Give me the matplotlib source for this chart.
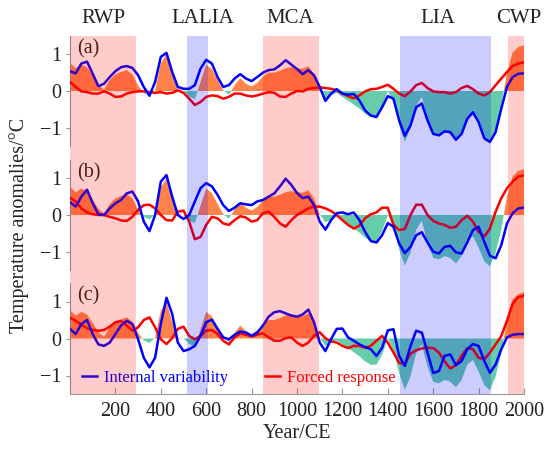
import matplotlib.pyplot as plt
import numpy as np

plt.rcParams['font.family'] = ['Liberation Serif', 'DejaVu Serif']
plt.rcParams['axes.unicode_minus'] = True

# ---- data (25-yr steps, 0..2000 CE) ----
years = np.arange(0, 2001, 25)

# reconstruction (shaded area, same in all panels)
recon = [0.77, 0.62, 0.72, 0.65, 0.42, 0.17, 0.04, 0.30,
         0.45, 0.52, 0.57, 0.45, 0.15, -0.05, -0.12, 0.02,
         0.75, 1.00, 0.45, 0.02, 0.00, -0.15, -0.22, 0.25,
         0.72, 0.60, 0.30, 0.02, -0.10, 0.15, 0.35, 0.20,
         0.12, 0.22, 0.40, 0.50, 0.50, 0.55, 0.62, 0.65,
         0.63, 0.60, 0.68, 0.45, 0.02, -0.20, -0.12, -0.05,
         -0.16, -0.26, -0.37, -0.48, -0.62, -0.71, -0.71, -0.44,
         0.00, -0.30, -0.94, -1.38, -1.03, -0.40, -0.16, -0.76,
         -1.17, -1.21, -1.12, -1.17, -1.32, -1.12, -0.71, -0.58,
         -0.89, -1.26, -1.40, -1.03, -0.40, 0.50, 1.05, 1.20,
         1.25]

internal_a = [0.54, 0.48, 0.75, 0.80, 0.47, 0.13, 0.20, 0.38,
              0.54, 0.65, 0.68, 0.63, 0.43, 0.11, -0.13, 0.25,
              0.93, 1.04, 0.52, 0.11, 0.06, 0.06, 0.16, 0.61,
              0.85, 0.75, 0.38, 0.11, 0.16, 0.34, 0.46, 0.34,
              0.27, 0.38, 0.50, 0.57, 0.59, 0.70, 0.84, 0.72,
              0.60, 0.46, 0.57, 0.43, 0.11, -0.27, -0.07, 0.05,
              -0.07, -0.10, -0.08, -0.26, -0.53, -0.67, -0.71, -0.44,
              -0.14, -0.21, -0.80, -1.22, -0.94, -0.44, -0.34, -0.80,
              -1.17, -1.21, -1.10, -1.12, -1.33, -1.17, -0.76, -0.58,
              -0.85, -1.29, -1.39, -1.12, -0.48, 0.11, 0.38, 0.47,
              0.48]
forced_a = [0.25, 0.11, -0.01, -0.03, -0.07, -0.07, -0.01, -0.07,
            -0.16, -0.15, -0.07, -0.03, -0.01, -0.01, -0.03, -0.05,
            -0.03, -0.07, -0.05, 0.02, -0.05, -0.21, -0.38, -0.30,
            -0.16, -0.12, -0.14, -0.21, -0.16, -0.07, -0.07, -0.12,
            -0.15, -0.12, -0.07, -0.03, -0.05, -0.15, -0.16, -0.07,
            0.00, -0.01, 0.06, 0.08, 0.10, 0.08, 0.06, 0.02,
            -0.07, -0.14, -0.20, -0.12, -0.01, 0.05, 0.06, 0.11,
            0.17, 0.06, -0.07, -0.14, -0.01, 0.16, 0.22, 0.08,
            -0.01, -0.03, -0.03, -0.07, -0.03, 0.08, 0.14, 0.05,
            -0.07, -0.12, -0.03, 0.16, 0.34, 0.52, 0.68, 0.75,
            0.78]

internal_b = [0.35, 0.23, 0.50, 0.69, 0.32, 0.02, 0.00, 0.18,
              0.32, 0.41, 0.59, 0.64, 0.37, -0.18, -0.44, 0.00,
              0.91, 1.09, 0.50, 0.00, -0.11, 0.00, 0.37, 0.73,
              0.87, 0.78, 0.55, 0.27, 0.11, 0.20, 0.32, 0.29,
              0.27, 0.37, 0.41, 0.50, 0.59, 0.78, 0.99, 0.82,
              0.60, 0.46, 0.50, 0.27, -0.18, -0.40, -0.14, 0.05,
              0.07, 0.02, 0.07, -0.14, -0.46, -0.71, -0.75, -0.55,
              -0.22, -0.32, -0.78, -1.04, -0.87, -0.55, -0.47, -0.75,
              -1.00, -1.05, -0.87, -0.84, -1.02, -1.05, -0.75, -0.41,
              -0.32, -0.73, -1.11, -1.18, -0.82, -0.23, 0.05, 0.18,
              0.20]
forced_b = [0.47, 0.37, 0.18, 0.07, 0.02, 0.00, 0.00, -0.05,
            -0.09, -0.15, -0.16, -0.05, 0.14, 0.27, 0.28, 0.18,
            0.00, -0.14, -0.15, 0.09, 0.12, -0.18, -0.66, -0.60,
            -0.27, -0.05, -0.09, -0.23, -0.27, -0.14, -0.03, -0.07,
            -0.18, -0.14, 0.05, 0.09, -0.05, -0.23, -0.32, -0.14,
            0.00, 0.09, 0.18, 0.23, 0.23, 0.18, 0.11, 0.00,
            -0.14, -0.27, -0.37, -0.29, -0.09, 0.02, 0.07, 0.20,
            0.20, -0.27, -0.41, -0.38, 0.00, 0.28, 0.28, 0.00,
            -0.16, -0.23, -0.27, -0.35, -0.32, -0.14, -0.02, -0.18,
            -0.46, -0.59, -0.37, 0.09, 0.46, 0.73, 0.91, 1.05,
            1.08]

internal_c = [0.26, 0.12, 0.39, 0.50, 0.12, -0.16, -0.20, -0.11,
              0.12, 0.35, 0.48, 0.39, -0.02, -0.52, -0.78, -0.52,
              0.39, 1.10, 0.67, -0.11, -0.34, -0.29, -0.20, 0.07,
              0.44, 0.51, 0.26, 0.03, -0.02, 0.10, 0.19, 0.16,
              0.07, 0.16, 0.35, 0.59, 0.71, 0.74, 0.68, 0.62,
              0.59, 0.65, 0.78, 0.44, -0.11, -0.34, -0.02, 0.26,
              0.27, 0.03, -0.06, -0.16, -0.23, -0.29, -0.47, -0.25,
              0.22, 0.25, -0.47, -0.74, -0.20, 0.21, 0.16, -0.38,
              -0.93, -0.88, -0.47, -0.43, -0.72, -0.61, -0.29, -0.15,
              -0.20, -0.61, -0.93, -0.70, -0.29, 0.03, 0.10, 0.12,
              0.12]
forced_c = [0.56, 0.48, 0.37, 0.28, 0.23, 0.21, 0.23, 0.32,
            0.44, 0.47, 0.35, 0.21, 0.30, 0.50, 0.57, 0.30,
            -0.02, -0.15, 0.01, 0.26, 0.32, 0.07, -0.02, 0.07,
            0.21, 0.23, 0.12, -0.06, -0.16, 0.03, 0.14, 0.10,
            0.05, 0.10, 0.14, 0.03, -0.06, -0.06, 0.01, 0.03,
            -0.11, -0.20, -0.11, 0.07, 0.17, 0.01, -0.08, -0.11,
            -0.20, -0.26, -0.20, -0.20, -0.25, -0.20, -0.06, 0.07,
            -0.11, -0.38, -0.66, -0.68, -0.41, -0.32, -0.27, -0.25,
            -0.26, -0.38, -0.61, -0.81, -0.72, -0.47, -0.26, -0.29,
            -0.52, -0.56, -0.38, -0.16, 0.07, 0.48, 0.94, 1.12,
            1.15]

# climate periods: name, start, end, warm/cold
period_names = ['RWP', 'LALIA', 'MCA', 'LIA', 'CWP']
period_start = [0, 517, 852, 1455, 1929]
period_end = [290, 610, 1098, 1853, 2000]
period_warm = [True, False, True, False, True]
label_x = [146, 587, 970, 1619, 1977]

panels = [('(a)', internal_a, forced_a),
          ('(b)', internal_b, forced_b),
          ('(c)', internal_c, forced_c)]

W, H = 544, 449
fig = plt.figure(figsize=(W / 100, H / 100), dpi=100)


def px_axes(x0, y0, x1, y1):	# axes placed by pixel box (top-left origin)
    return fig.add_axes([x0 / W, 1 - y1 / H, (x1 - x0) / W, (y1 - y0) / H])


boxes = [(70, 36, 524, 146), (70, 160, 524, 270), (70, 283, 524, 394)]
rec = np.array(recon)
axes = []
for (tag, internal, forced), box in zip(panels, boxes):
    ax = px_axes(*box)
    ax.fill_between(years, rec, 0, where=rec >= 0, interpolate=True,
                    color='#FF834B', lw=0, zorder=1)
    ax.fill_between(years, rec, 0, where=rec <= 0, interpolate=True,
                    color='#66CDAA', lw=0, zorder=1)
    ax.plot(years, forced, color='#FF0000', lw=1.8, zorder=3, label='Forced response')
    ax.plot(years, internal, color='#0000FF', lw=1.8, zorder=4, label='Internal variability')
    ax.set_xlim(0, 2000)
    ax.set_ylim(-1.5, 1.5)
    ax.set_yticks([-1, 0, 1])
    for s in ['top', 'right', 'bottom']:
        ax.spines[s].set_visible(False)
    ax.spines['left'].set_color('#999999')
    ax.tick_params(axis='y', direction='out', length=3, color='#999999',
                   labelsize=14.5, pad=3, labelcolor='#222222')
    ax.set_xticks([])
    ax.text(0.015, 0.885, tag, transform=ax.transAxes, fontsize=14.5,
            ha='left', va='center', color='#222222')
    ax.patch.set_visible(False)
    axes.append(ax)

# bottom panel gets the time axis and legend
axc = axes[-1]
axc.spines['bottom'].set_visible(True)
axc.spines['bottom'].set_color('#999999')
axc.set_xticks(np.arange(200, 2001, 200))
axc.tick_params(axis='x', direction='in', length=4, color='#999999',
                labelsize=14.5, pad=6, labelcolor='#222222')
axc.set_xlabel('Year/CE', fontsize=14.5, color='#222222', labelpad=2)
h, l = axc.get_legend_handles_labels()
axc.legend(h[::-1], l[::-1], ncol=2, frameon=False, fontsize=12,
           loc='center left', bbox_to_anchor=(0.02, 0.145),
           handlelength=0.9, handletextpad=0.4, columnspacing=2.2,
           borderpad=0, borderaxespad=0.2, labelcolor='linecolor')

fig.text(0.035, 0.497, 'Temperature anomalies/°C', rotation=90,
         ha='center', va='center', fontsize=14.5, color='#222222')

# period bands drawn over everything, one axes spanning all panels
band = px_axes(70, 36, 524, 394)
band.set_xlim(0, 2000)
band.set_ylim(0, 1)
band.axis('off')
band.set_zorder(10)
for name, a, b, warm, lx in zip(period_names, period_start, period_end,
                                 period_warm, label_x):
    band.axvspan(a, b, color='red' if warm else 'blue', alpha=0.2, lw=0)
    band.text(lx, 1.05, name, fontsize=15, ha='center', va='center',
              color='#222222')

fig.savefig('out.png', dpi=100)
